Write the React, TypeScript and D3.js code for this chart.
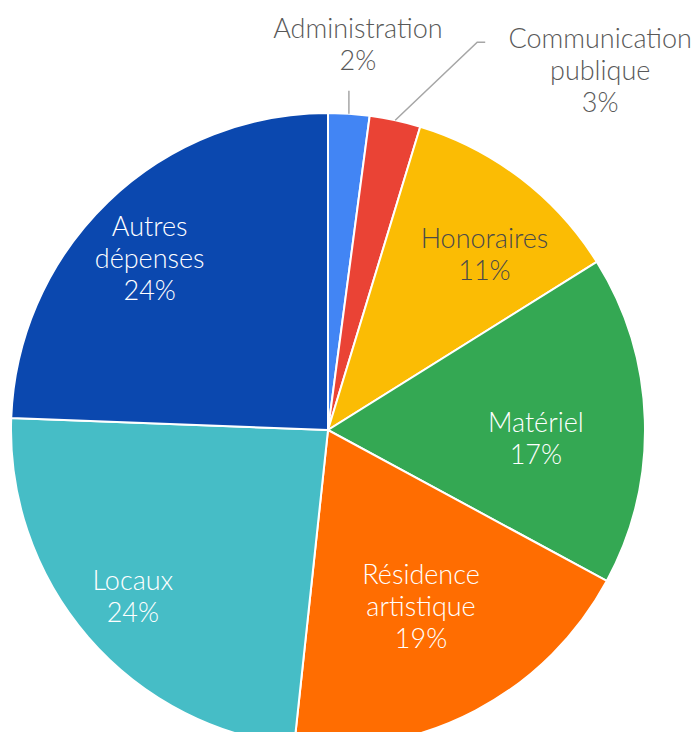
import React, { useEffect, useRef } from 'react';
import * as d3 from 'd3';

const categories = [
  'Administration',
  'Communication publique',
  'Honoraires',
  'Matériel',
  'Résidence artistique',
  'Locaux',
  'Autres dépenses',
];
const values = [2.1, 2.6, 11.4, 16.8, 18.8, 23.9, 24.4];
const percentLabels = ['2%', '3%', '11%', '17%', '19%', '24%', '24%'];
const labelLines = [
  ['Administration'],
  ['Communication', 'publique'],
  ['Honoraires'],
  ['Matériel'],
  ['Résidence', 'artistique'],
  ['Locaux'],
  ['Autres', 'dépenses'],
];
const colors = ['#4285F4', '#EA4335', '#FBBC04', '#34A853', '#FF6D01', '#46BDC6', '#0B48AF'];

const App = () => {
  const svgRef = useRef(null);

  useEffect(() => {
    if (!svgRef.current) return;
    const cx = 328;
    const cy = 430;
    const radius = 317;
    const lineH = 32;
    const fontSize = 27;
    const font = 'Lato, "Noto Sans", sans-serif';

    const svg = d3.select(svgRef.current);
    svg.selectAll('*').remove();

    const g = svg.append('g').attr('transform', `translate(${cx},${cy})`);

    const pie = d3
      .pie<number>()
      .sort(null)
      .value((d) => d);
    const arcs = pie(values);
    const arc = d3.arc<d3.PieArcDatum<number>>().innerRadius(0).outerRadius(radius);

    g.selectAll('path.slice')
      .data(arcs)
      .enter()
      .append('path')
      .attr('class', 'slice')
      .attr('d', arc)
      .attr('fill', (d, i) => colors[i])
      .attr('stroke', '#fff')
      .attr('stroke-width', 2);

    // labels inside the big slices: radius along mid-angle, plus a small nudge
    const labelRadius = [0, 0, 236, 208, 200, 258, 247];
    const nudge = [[0, 0], [0, 0], [13, 12], [0, 15], [0, 0], [0, -2], [-7, 6]];

    const addText = (x, y, lines, fill) => {
      const text = g
        .append('text')
        .attr('text-anchor', 'middle')
        .attr('font-family', font)
        .attr('font-weight', 300)
        .attr('font-size', fontSize)
        .attr('fill', fill);
      lines.forEach((l, k) => {
        text
          .append('tspan')
          .attr('x', x)
          .attr('y', y + k * lineH)
          .attr('dy', '0.35em')
          .text(l);
      });
    };

    arcs.forEach((d, i) => {
      if (i < 2) return;
      const mid = (d.startAngle + d.endAngle) / 2;
      const lines = [...labelLines[i], percentLabels[i]];
      const r = labelRadius[i];
      const x = Math.sin(mid) * r + nudge[i][0];
      const y = -Math.cos(mid) * r + nudge[i][1];
      addText(x, y - ((lines.length - 1) / 2) * lineH, lines, i === 2 ? '#4a4a4a' : '#fff');
    });

    // outside labels with leader lines
    const adm = arcs[0];
    const admMid = (adm.startAngle + adm.endAngle) / 2;
    const ax = Math.sin(admMid) * radius;
    const ay = -Math.cos(admMid) * radius;
    g.append('line')
      .attr('x1', ax)
      .attr('y1', ay)
      .attr('x2', ax)
      .attr('y2', ay - 23)
      .attr('stroke', '#a6a6a6')
      .attr('stroke-width', 1.5);
    addText(ax + 9, ay - 85, [...labelLines[0], percentLabels[0]], '#595959');

    const com = arcs[1];
    const comMid = (com.startAngle + com.endAngle) / 2;
    const c0x = Math.sin(comMid) * radius;
    const c0y = -Math.cos(comMid) * radius;
    g.append('polyline')
      .attr('points', `${c0x},${c0y} ${c0x + 82},${c0y - 78} ${c0x + 90},${c0y - 78}`)
      .attr('fill', 'none')
      .attr('stroke', '#a6a6a6')
      .attr('stroke-width', 1.5);
    addText(c0x + 205, c0y - 82, [...labelLines[1], percentLabels[1]], '#595959');
  }, []);

  return (
    <div style={{ margin: -8 }}>
      <svg ref={svgRef} width={699} height={740} style={{ display: 'block' }} />
    </div>
  );
};

export default App;
